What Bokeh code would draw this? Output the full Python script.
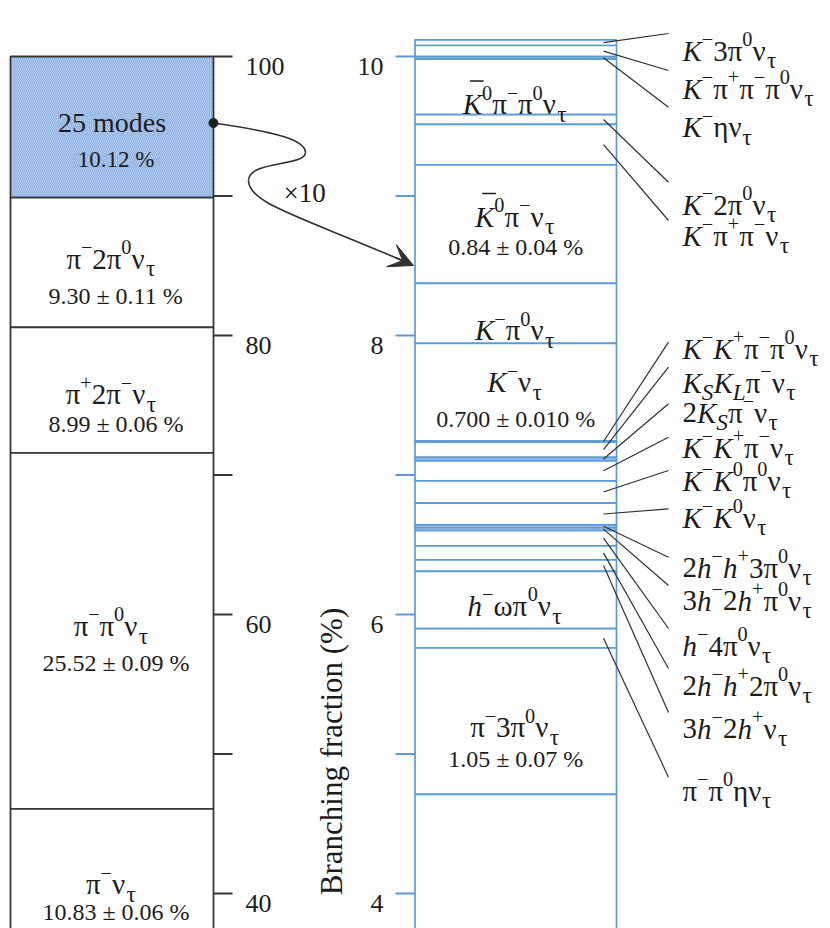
import math
from bokeh.plotting import figure
from bokeh.models import Range1d, ColumnDataSource, Arrow, VeeHead
from bokeh.embed import file_html
from bokeh.resources import INLINE
from bokeh.core.properties import value, field

# ---------------- data ----------------
main_labels = ["25 modes", "π^−2π^0ν_τ", "π^+2π^−ν_τ", "π^−π^0ν_τ", "π^−ν_τ"]
main_values = [10.12, 9.30, 8.99, 25.52, 10.83]
main_value_text = ["10.12 %", "9.30 ± 0.11 %", "8.99 ± 0.06 %", "25.52 ± 0.09 %", "10.83 ± 0.06 %"]

minor_labels = ["K^−3π^0ν_τ", "K^−π^+π^−π^0ν_τ", "K^−ην_τ", "~K^0π^−π^0ν_τ", "K^−2π^0ν_τ",
                "K^−π^+π^−ν_τ", "~K^0π^−ν_τ", "K^−π^0ν_τ", "K^−ν_τ", "K^−K^+π^−π^0ν_τ",
                "K_SK_Lπ^−ν_τ", "2K_Sπ^−ν_τ", "K^−K^+π^−ν_τ", "K^−K^0π^0ν_τ", "K^−K^0ν_τ",
                "2h^−h^+3π^0ν_τ", "3h^−2h^+π^0ν_τ", "h^−4π^0ν_τ", "2h^−h^+2π^0ν_τ", "3h^−2h^+ν_τ",
                "h^−ωπ^0ν_τ", "π^−π^0ην_τ", "π^−3π^0ν_τ", "h^−ων_τ", "2h^−h^+π^0ν_τ"]
minor_values = [0.04, 0.08, 0.016, 0.40, 0.07,
                0.29, 0.85, 0.43, 0.700, 0.006,
                0.11, 0.024, 0.145, 0.16, 0.155,
                0.021, 0.02, 0.11, 0.10, 0.083,
                0.41, 0.139, 1.05, 1.95, 2.76]
minor_value_text = {"~K^0π^−ν_τ": "0.84 ± 0.04 %", "K^−ν_τ": "0.700 ± 0.010 %",
                    "π^−3π^0ν_τ": "1.05 ± 0.07 %"}

main_ticks = [100, 90, 80, 70, 60, 50, 40]
main_tick_labels = ["100", "", "80", "", "60", "", "40"]
minor_ticks = [10, 9, 8, 7, 6, 5, 4]
minor_tick_labels = ["10", "", "8", "", "6", "", "4"]
axis_title = "Branching fraction (%)"
zoom_text = "×10"

# ---------------- layout ----------------
W, H = 830, 928
PX = 13.95          # pixels per % on the main scale
Y100 = 56           # pixel row of 100 % (and of 10 % on the x10 scale)
def py_main(py): return 100 - (py - Y100) / PX
def py_zoom(py): return 10 - (py - Y100) / (10 * PX)

FONT = "Liberation Serif"
TXT = "#1c1c1c"
DARK = "#353535"
BLUE = "#5b9ad8"
HFILL = "#aac6ec"
HCOL = "#7fa6dc"

LBOX = (10, 213)
RBOX = (414.5, 616)

inside_off = {"~K^0π^−π^0ν_τ": (17.5, None), "~K^0π^−ν_τ": (-7.6, 23), "K^−π^0ν_τ": (17, None),
              "K^−ν_τ": (-10, 26.4), "h^−ωπ^0ν_τ": (6, None), "π^−3π^0ν_τ": (6, 37.5)}
hidden = {"h^−ων_τ", "2h^−h^+π^0ν_τ"}
ext_base_px = [50, 88, 126.7, 204, 235, 348, 382, 412, 447, 480, 517, 567, 600, 645, 685, 728, 790]
ext_lead_px = [33, 70, 106.7, 181.7, 220, 341.7, 366.7, 403.3, 436.7, 470, 508.3, 556.7, 585, 628,
               668, 712, 776.7]
left_off = [(-5, 32), (-4, 33), (4, 34), (-5, 32), (0, 28)]

WID = {c: 0.5 for c in "0123456789"}
WID.update({'.': 0.25, ' ': 0.25, '%': 0.833, '±': 0.549, '×': 0.564, 'm': 0.778, 'o': 0.5,
            'd': 0.5, 'e': 0.444, 's': 0.389, 'π': 0.5, 'ν': 0.5, 'τ': 0.5, 'η': 0.5,
            'ω': 0.68, '−': 0.564, '+': 0.564, 'K': 0.667, 'h': 0.5, 'S': 0.5, 'L': 0.556})
ITALIC = set("KhSL")
SUP_S, SUB_S, SUP_UP, SUB_DN = 0.70, 0.80, 0.40, 0.34


def layout(markup, F, plain=False):
    items = []
    i = 0
    bar = False
    while i < len(markup):
        c = markup[i]
        if not plain and c == '~':
            bar = True; i += 1; continue
        mode = 'n'
        if not plain and c in '^_':
            mode = 'sup' if c == '^' else 'sub'
            i += 1; c = markup[i]
        items.append((c, mode, (not plain) and c in ITALIC, bar))
        bar = False
        i += 1
    pieces, bars = [], []
    x = 0.0
    for c, mode, it, b in items:
        size = F if mode == 'n' else F * (SUP_S if mode == 'sup' else SUB_S)
        dy = 0 if mode == 'n' else (SUP_UP * F if mode == 'sup' else -SUB_DN * F)
        if b:
            bars.append((x + 0.25 * F, x + 0.72 * F, 0.80 * F))
        if pieces and pieces[-1]['mode'] == mode and pieces[-1]['it'] == it:
            pieces[-1]['text'] += c
        else:
            pieces.append(dict(text=c, dx=x, dy=dy, size=size, mode=mode, it=it))
        x += WID.get(c, 0.5) * size
    return pieces, x, bars


def new_src():
    return dict(x=[], y=[], text=[], size=[], style=[])

txt = {"default": new_src(), "zoom": new_src()}
barsrc = {"default": dict(x0=[], x1=[], y=[]), "zoom": dict(x0=[], x1=[], y=[])}


def add_text(rng, markup, x, yv, F, align='left', plain=False):
    scale = PX if rng == "default" else 10 * PX
    pieces, wtot, bars = layout(markup, F, plain)
    x0 = x - wtot / 2 if align == 'center' else x
    s = txt[rng]
    for pc in pieces:
        s['x'].append(x0 + pc['dx'])
        s['y'].append(yv + pc['dy'] / scale)
        s['text'].append(pc['text'])
        s['size'].append(f"{pc['size']:.1f}px")
        s['style'].append('italic' if pc['it'] else 'normal')
    for bx0, bx1, by in bars:
        barsrc[rng]['x0'].append(x0 + bx0)
        barsrc[rng]['x1'].append(x0 + bx1)
        barsrc[rng]['y'].append(yv + by / scale)


p = figure(width=W, height=H, x_range=Range1d(0, W),
           y_range=Range1d(py_main(H), py_main(0)),
           x_axis_type=None, y_axis_type=None, toolbar_location=None,
           output_backend="svg", min_border=0, outline_line_color=None)
p.extra_y_ranges = {"zoom": Range1d(py_zoom(H), py_zoom(0))}
p.grid.visible = False

# ---- main column ----
tops, bots = [], []
cur = 100.0
for v in main_values:
    tops.append(cur); bots.append(cur - v); cur -= v
p.quad(left=LBOX[0], right=LBOX[1], top=tops[:1], bottom=bots[:1], fill_color=HFILL,
       hatch_pattern="/", hatch_color=HCOL, hatch_scale=4, hatch_weight=0.6,
       line_color=DARK, line_width=1.8)
p.quad(left=LBOX[0], right=LBOX[1], top=tops[1:], bottom=bots[1:], fill_color="white",
       line_color=DARK, line_width=1.8)
p.segment(x0=LBOX[1], x1=232, y0=main_ticks, y1=main_ticks, line_color=DARK, line_width=1.8)
for t, lab in zip(main_ticks, main_tick_labels):
    if lab:
        add_text("default", lab, 245, t - 9.5 / PX, 26, plain=True)
for lab, vt, t, b, (o1, o2) in zip(main_labels, main_value_text, tops, bots, left_off):
    mid = (t + b) / 2
    cx = (LBOX[0] + LBOX[1]) / 2
    add_text("default", lab, cx, mid - o1 / PX, 28 if lab == "25 modes" else 29,
             align='center', plain=(lab == "25 modes"))
    add_text("default", vt, cx + 4, mid - o2 / PX, 24 if lab != "25 modes" else 23,
             align='center', plain=True)

# ---- x10 column ----
ztop = sum(minor_values)
ztops, zbots = [], []
cur = ztop
for v in minor_values:
    ztops.append(cur); zbots.append(cur - v); cur -= v
thin = [i for i, v in enumerate(minor_values) if v < 0.03]
wide = [i for i, v in enumerate(minor_values) if v >= 0.03]
p.quad(left=RBOX[0], right=RBOX[1], top=[ztops[i] for i in wide], bottom=[zbots[i] for i in wide],
       fill_color="white", line_color=BLUE, line_width=1.7, y_range_name="zoom")
p.quad(left=RBOX[0], right=RBOX[1], top=[ztops[i] for i in thin], bottom=[zbots[i] for i in thin],
       fill_color=HFILL, hatch_pattern="/", hatch_color=HCOL, hatch_scale=3, hatch_weight=0.6,
       line_color=BLUE, line_width=1.7, y_range_name="zoom")
p.segment(x0=395, x1=RBOX[0], y0=minor_ticks, y1=minor_ticks, line_color=BLUE, line_width=2,
          y_range_name="zoom")
for t, lab in zip(minor_ticks, minor_tick_labels):
    if lab:
        w = len(lab) * 0.5 * 26
        add_text("zoom", lab, 383 - w, t - 9.5 / (10 * PX), 26, plain=True)

lead = dict(x0=[], y0=[], x1=[], y1=[])
k = 0
for i, lab in enumerate(minor_labels):
    mid = (ztops[i] + zbots[i]) / 2
    if lab in hidden:
        continue
    if lab in inside_off:
        o1, o2 = inside_off[lab]
        cx = (RBOX[0] + RBOX[1]) / 2
        add_text("zoom", lab, cx, mid - o1 / (10 * PX), 29, align='center')
        if o2 is not None:
            add_text("zoom", minor_value_text[lab], cx, mid - o2 / (10 * PX), 24,
                     align='center', plain=True)
    else:
        add_text("zoom", lab, 682, py_zoom(ext_base_px[k]), 29)
        lead['x0'].append(668); lead['y0'].append(py_zoom(ext_lead_px[k]))
        lead['x1'].append(603); lead['y1'].append(mid)
        k += 1
p.segment(x0='x0', y0='y0', x1='x1', y1='y1', source=ColumnDataSource(lead),
          line_color="#303030", line_width=1.2, y_range_name="zoom")

# ---- arrow from the 25 modes box to the x10 column ----
def P(x, y): return (x, py_main(y))
segs = [(P(213, 122.5), P(272, 131), P(305, 139), P(305, 152)),
        (P(305, 152), P(305, 166), P(248, 160), P(248, 180)),
        (P(248, 180), P(248, 203), P(300, 216), P(404, 261))]
p.bezier(x0=[s[0][0] for s in segs], y0=[s[0][1] for s in segs],
         cx0=[s[1][0] for s in segs], cy0=[s[1][1] for s in segs],
         cx1=[s[2][0] for s in segs], cy1=[s[2][1] for s in segs],
         x1=[s[3][0] for s in segs], y1=[s[3][1] for s in segs],
         line_color="#303030", line_width=1.6)
p.add_layout(Arrow(end=VeeHead(size=24, fill_color="#303030", line_color="#303030"),
                   x_start=395, y_start=py_main(257), x_end=413, y_end=py_main(265),
                   line_color="#303030", line_width=1.6))
p.scatter(x=[LBOX[1]], y=[py_main(122.5)], size=9, color="#202020")
add_text("default", zoom_text, 283, py_main(192), 27, plain=True)

# ---- axis title ----
p.text(x=[331], y=[py_main(751)], text=[axis_title], angle=math.pi / 2,
       text_font=value(FONT), text_font_size="31px", text_color=TXT,
       text_align="center", text_baseline="alphabetic")

# ---- texts ----
for rng in ("default", "zoom"):
    kw = {} if rng == "default" else {"y_range_name": "zoom"}
    p.text(x='x', y='y', text='text', source=ColumnDataSource(txt[rng]),
           text_font=value(FONT), text_font_size=field('size'), text_font_style=field('style'),
           text_color=TXT, text_align="left", text_baseline="alphabetic", **kw)
    if barsrc[rng]['x0']:
        p.segment(x0='x0', x1='x1', y0='y', y1='y', source=ColumnDataSource(barsrc[rng]),
                  line_color=TXT, line_width=1.5, **kw)

open("out.html", "w").write(file_html(p, INLINE))
